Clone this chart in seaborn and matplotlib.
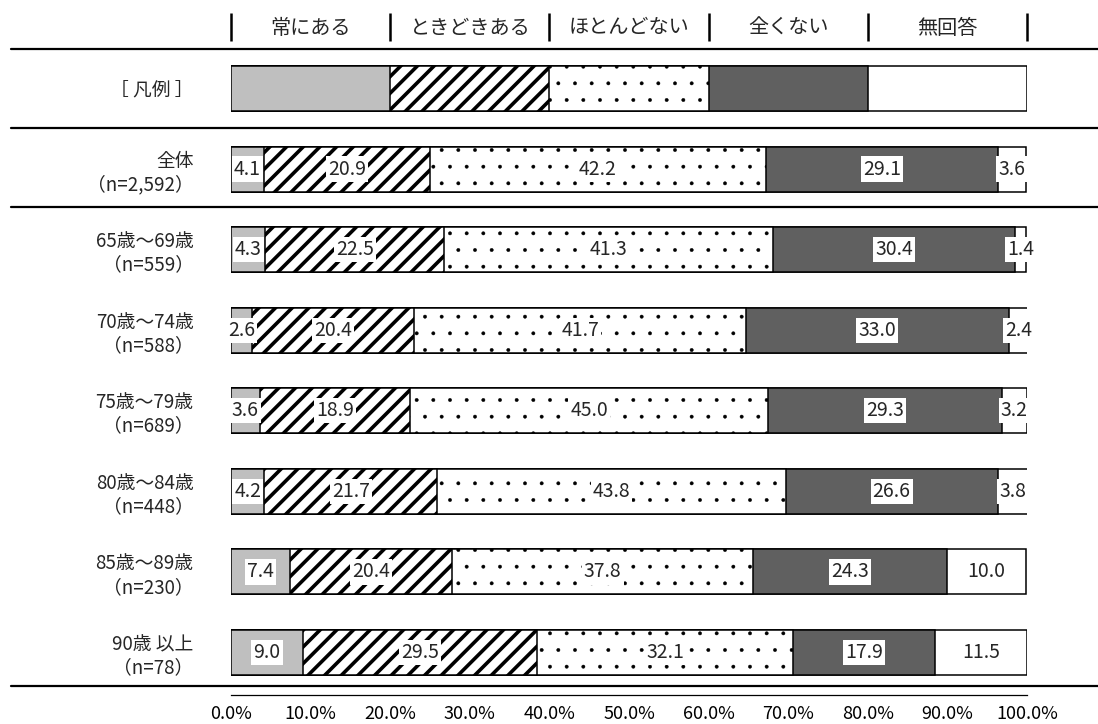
import numpy as np
import pandas as pd
import matplotlib
matplotlib.use("Agg")
import matplotlib.pyplot as plt
from matplotlib.lines import Line2D
import seaborn as sns

# ---- data ----
series = ["常にある", "ときどきある", "ほとんどない", "全くない", "無回答"]
categories = ["［ 凡例 ］", "全体\n（n=2,592）", "65歳～69歳\n（n=559）", "70歳～74歳\n（n=588）",
              "75歳～79歳\n（n=689）", "80歳～84歳\n（n=448）", "85歳～89歳\n（n=230）",
              "90歳 以上\n（n=78）"]
always = [20, 4.1, 4.3, 2.6, 3.6, 4.2, 7.4, 9.0]
sometimes = [20, 20.9, 22.5, 20.4, 18.9, 21.7, 20.4, 29.5]
rarely = [20, 42.2, 41.3, 41.7, 45.0, 43.8, 37.8, 32.1]
never = [20, 29.1, 30.4, 33.0, 29.3, 26.6, 24.3, 17.9]
noanswer = [20, 3.6, 1.4, 2.4, 3.2, 3.8, 10.0, 11.5]
xticks = [0, 10, 20, 30, 40, 50, 60, 70, 80, 90, 100]

sns.set_style("white")
plt.rcParams['font.family'] = ['Noto Sans CJK JP', 'DejaVu Sans']
plt.rcParams['hatch.color'] = 'black'

W, H = 1098, 724
fig = plt.figure(figsize=(W / 100, H / 100), dpi=100)
ax = fig.add_axes([231 / W, 0, 796 / W, 1])

vals = np.array([always, sometimes, rarely, never, noanswer])
cum = np.cumsum(vals, axis=0)
df = pd.DataFrame({"cat": categories})
for k, s in enumerate(series):
    df[s] = cum[k]

styles = [
    dict(color="#bfbfbf", hatch=None, hlw=1.0),
    dict(color="white", hatch="//", hlw=2.6),
    dict(color="white", hatch=".", hlw=0.3),
    dict(color="#606060", hatch=None, hlw=1.0),
    dict(color="white", hatch=None, hlw=1.0),
]

for k in range(len(series) - 1, -1, -1):
    st = styles[k]
    kw = {}
    if st["hatch"]:
        kw["hatch"] = st["hatch"]
    with plt.rc_context({'hatch.linewidth': st["hlw"]}):
        sns.barplot(data=df, x=series[k], y="cat", order=categories, orient="y",
                    color=st["color"], saturation=1, width=0.56, edgecolor="black",
                    linewidth=1.1, errorbar=None, ax=ax, **kw)

# value labels
for r in range(1, len(categories)):
    left = 0.0
    for k in range(len(series)):
        v = vals[k, r]
        ax.text(left + v / 2, r, f"{v:.1f}", ha="center", va="center", fontsize=14,
                bbox=dict(facecolor="white", edgecolor="none", pad=1.5), zorder=10)
        left += v

# y axis limits mapped to pixels
def py(p):
    return (p - 88.5) / 80.57

ax.set_ylim(py(H), py(0))
ax.set_xlim(0, 100)
ax.set_xlabel("")
ax.set_ylabel("")

for s in ["top", "right", "left"]:
    ax.spines[s].set_visible(False)
ax.spines["bottom"].set_position(("data", py(695)))
ax.spines["bottom"].set_linewidth(0.9)
ax.spines["bottom"].set_color("black")
ax.set_xticks(xticks)
ax.set_xticklabels([f"{t:.1f}%" for t in xticks], fontsize=13)
ax.tick_params(axis="x", direction="out", length=3, width=0.9, pad=4, colors="black")
ax.tick_params(axis="y", length=0, pad=27, labelsize=13.5)
for t in ax.get_yticklabels():
    t.set_multialignment("right")
    t.set_linespacing(1.15)

# header
for k, s in enumerate(series):
    ax.text(10 + 20 * k, py(28), s, ha="center", va="center", fontsize=14.5, clip_on=False)
ax.vlines([0, 20, 40, 60, 80, 100], py(13), py(41), colors="black", lw=1.8, clip_on=False)

# separators
for p in [49, 128, 207, 686]:
    yy = 1 - p / H
    fig.add_artist(Line2D([11 / W, 1], [yy, yy], color="black", lw=1.6))

fig.savefig("out.png", dpi=100, facecolor="white")
